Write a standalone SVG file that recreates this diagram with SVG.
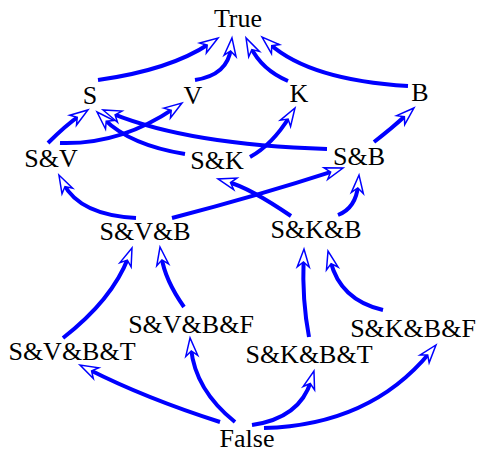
<svg xmlns="http://www.w3.org/2000/svg" width="480" height="452" viewBox="0 0 480 452">
<style>
text{font-family:'Liberation Serif',serif;font-size:26px;fill:#000;text-anchor:middle}
.e{fill:none;stroke:#0000ff;stroke-width:4;marker-end:url(#ah)}
</style>
<defs>
<marker id="ah" markerUnits="userSpaceOnUse" markerWidth="24" markerHeight="16" refX="10" refY="8" orient="auto" overflow="visible">
<path d="M2,2 L20,8 L2,14 L7,8 Z" fill="#fff" stroke="#0000ff" stroke-width="1.5" stroke-linejoin="miter"/>
</marker>
</defs>
<rect width="480" height="452" fill="#fff"/>
<g id="edges">
<path class="e" d="M98,80 Q170,70 209.7,43.5"/>
<path class="e" d="M195,80 Q228,75 230.9,47.9"/>
<path class="e" d="M288,81 Q262,70 250.5,46.9"/>
<path class="e" d="M408,86 Q310,80 269.5,43.7"/>
<path class="e" d="M48,143 Q66,125 79.7,115.6"/>
<path class="e" d="M60,143 Q120,145 173.7,108.6"/>
<path class="e" d="M185,154 Q130,145 104.1,119.1"/>
<path class="e" d="M327,149 Q190,145 112.3,113.7"/>
<path class="e" d="M250,157 Q272,145 289.7,116.5"/>
<path class="e" d="M374,142 Q392,128 406.6,114.7"/>
<path class="e" d="M136,218 Q80,215 63.6,183.9"/>
<path class="e" d="M172,218 Q260,195 333.5,171.1"/>
<path class="e" d="M291,216 Q250,188 227.6,181.7"/>
<path class="e" d="M338,215 Q356,208 358.1,185"/>
<path class="e" d="M63,338 Q112,300 128.4,257.3"/>
<path class="e" d="M184,307 Q165,280 161.5,256.9"/>
<path class="e" d="M220,422 Q145,398 88.9,369.5"/>
<path class="e" d="M235,422 Q195,390 191,347.9"/>
<path class="e" d="M309,337 Q302,300 303.6,259"/>
<path class="e" d="M383,310 Q340,300 330.4,260.7"/>
<path class="e" d="M252,425 Q300,418 311.1,380.6"/>
<path class="e" d="M264,428 Q370,425 429.6,352.7"/>
</g>
<g id="True"><text x="238" y="27">True</text></g>
<g id="S"><text x="90" y="104">S</text></g>
<g id="V"><text x="193" y="104">V</text></g>
<g id="K"><text x="299" y="102">K</text></g>
<g id="B"><text x="420" y="101">B</text></g>
<g id="SV"><text x="51" y="167">S&amp;V</text></g>
<g id="SK"><text x="217" y="169">S&amp;K</text></g>
<g id="SB"><text x="359" y="165">S&amp;B</text></g>
<g id="SVB"><text x="145" y="240">S&amp;V&amp;B</text></g>
<g id="SKB"><text x="316" y="238">S&amp;K&amp;B</text></g>
<g id="SVBF"><text x="191" y="333">S&amp;V&amp;B&amp;F</text></g>
<g id="SVBT"><text x="72" y="360">S&amp;V&amp;B&amp;T</text></g>
<g id="SKBT"><text x="309" y="363">S&amp;K&amp;B&amp;T</text></g>
<g id="SKBF"><text x="413" y="337">S&amp;K&amp;B&amp;F</text></g>
<g id="False"><text x="247" y="447">False</text></g>
</svg>
